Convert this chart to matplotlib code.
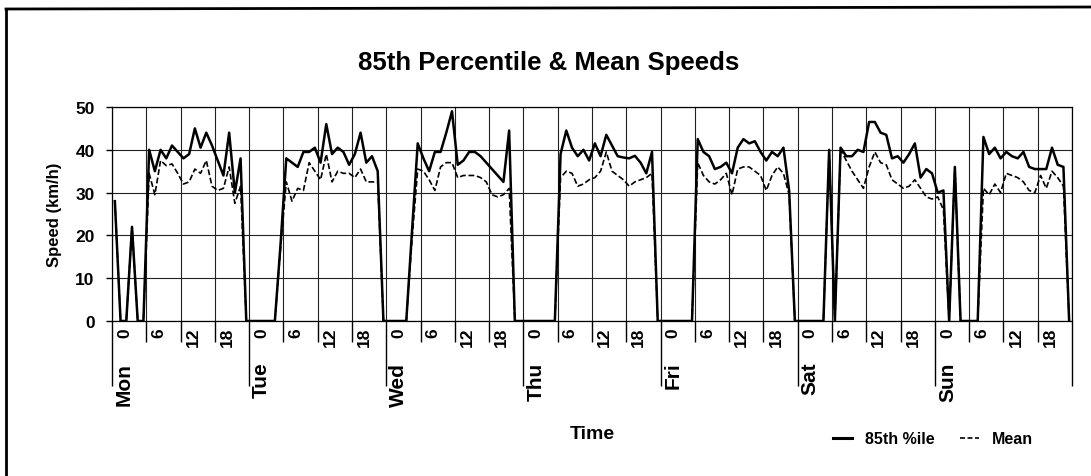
import numpy as np
import matplotlib.pyplot as plt
from matplotlib.lines import Line2D

days = ["Mon", "Tue", "Wed", "Thu", "Fri", "Sat", "Sun"]
hour_labels = ["0", "6", "12", "18"]

# hourly speeds (km/h), hour 0..23 for each day
p85_mon = [28, 0, 0, 22, 0, 0, 40, 35, 40, 38, 41, 39.5, 38, 39, 45, 40.5, 44, 41, 37.5, 34, 44, 30, 38, 0]
p85_tue = [0, 0, 0, 0, 0, 18, 38, 37, 36, 39.5, 39.5, 40.5, 37, 46, 39, 40.5, 39.5, 36.5, 39, 44, 37, 38.5, 35, 0]
p85_wed = [0, 0, 0, 0, 21, 41.5, 38, 35, 39.5, 39.5, 44, 49, 36.5, 37.5, 39.5, 39.5, 38.5, 37, 35.5, 34, 32.5, 44.5, 0, 0]
p85_thu = [0, 0, 0, 0, 0, 0, 39, 44.5, 40.5, 38.5, 40, 37.5, 41.5, 38.5, 43.5, 41, 38.5, 38.2, 38, 38.6, 37, 34.5, 39.5, 0]
p85_fri = [0, 0, 0, 0, 0, 0, 42.5, 39.5, 38.5, 35.5, 36, 37, 34.5, 40.5, 42.5, 41.5, 42, 39.5, 37.5, 39.5, 38.5, 40.5, 30.5, 0]
p85_sat = [0, 0, 0, 0, 0, 40, 0, 40.5, 38.5, 38.5, 40, 39.5, 46.5, 46.5, 44, 43.5, 38, 38.5, 37, 39, 41.5, 33.5, 35.5, 34.5]
p85_sun = [30, 30.5, 0, 36, 0, 0, 0, 0, 43, 39, 40.5, 38, 39.5, 38.5, 38, 39.5, 36, 35.5, 35.5, 35.5, 40.5, 36.5, 36, 0]

mean_mon = [28, 0, 0, 22, 0, 0, 34.5, 29.5, 37.5, 36.3, 36.7, 34.5, 32, 32.5, 35.5, 34.5, 37.5, 31.5, 30.5, 31, 36, 27.5, 31.5, 0]
mean_tue = [0, 0, 0, 0, 0, 17, 32.5, 28, 31, 30.5, 37, 35, 33, 39, 32.5, 35, 34.5, 34.5, 33.5, 35.5, 32.5, 32.5, 32.5, 0]
mean_wed = [0, 0, 0, 0, 19, 35.5, 35, 33, 30.5, 36, 37, 37, 33.5, 34, 34, 34, 33.5, 32.5, 29.5, 29, 29.5, 31, 0, 0]
mean_thu = [0, 0, 0, 0, 0, 0, 33.5, 35, 34.5, 31.5, 32, 33, 33.5, 35, 39.5, 35, 34, 33, 31.5, 32.5, 33, 33.5, 34.5, 0]
mean_fri = [0, 0, 0, 0, 0, 0, 37, 34, 32.5, 32, 33, 34.5, 29.5, 35.5, 36, 36, 35, 34, 30.5, 34, 36, 34.5, 29.5, 0]
mean_sat = [0, 0, 0, 0, 0, 40, 0, 40, 37.5, 35, 33, 31, 36, 39.5, 37, 36.5, 33, 32, 31, 31.5, 33, 31, 29, 28.5]
mean_sun = [29, 26, 0, 36, 0, 0, 0, 0, 31, 29.5, 32, 30, 34.5, 34, 33.5, 32.5, 30.5, 30, 34, 31, 35, 33.5, 31.5, 0]

p85 = np.concatenate([p85_mon, p85_tue, p85_wed, p85_thu, p85_fri, p85_sat, p85_sun])
mean = np.concatenate([mean_mon, mean_tue, mean_wed, mean_thu, mean_fri, mean_sat, mean_sun])
x = np.arange(len(p85)) + 0.5

plt.rcParams['font.family'] = ['Liberation Sans', 'DejaVu Sans']
plt.rcParams['font.weight'] = 'bold'

W, H = 1091, 477
fig = plt.figure(figsize=(W / 100, H / 100), dpi=100)
ax = fig.add_axes([112 / W, (H - 322) / H, 960 / W, 214 / H])

ax.plot(x, p85, color='black', lw=1.8, zorder=3)
ax.plot(x, mean, color='black', lw=1.2, ls=(0, (3.5, 1.6)), zorder=3)

ax.set_xlim(0, 168)
ax.set_ylim(0, 50)
ax.set_yticks(range(0, 51, 10))
ax.set_xticks(np.arange(0, 169, 24))
ax.set_xticks([d * 24 + h for d in range(7) for h in (6, 12, 18)], minor=True)
ax.tick_params(axis='x', which='major', length=47, width=1, color='black', labelbottom=False)
ax.tick_params(axis='x', which='minor', length=15, width=1, color='black', labelbottom=False)
ax.tick_params(axis='y', length=4.5, width=1, labelsize=12.5, pad=8)
ax.grid(axis='x', which='both', color='#222222', lw=0.8)
ax.grid(axis='y', color='#222222', lw=0.8)
for s in ax.spines.values():
    s.set_color('black')
    s.set_linewidth(0.9)

tr = ax.get_xaxis_transform()
for d, day in enumerate(days):
    for k, lab in enumerate(hour_labels):
        ax.text(d * 24 + k * 6 + 2.2, -0.028, lab, transform=tr, rotation=90,
                ha='center', va='top', fontsize=12.5)
    ax.text(d * 24 + 2.2, -0.19, day, transform=tr, rotation=90,
            ha='center', va='top', fontsize=15)

fig.text(55 / W, 1 - 215 / H, 'Speed (km/h)', rotation=90, ha='center', va='center', fontsize=12)
fig.text(549 / W, 1 - 63 / H, '85th Percentile & Mean Speeds', ha='center', va='center', fontsize=18.5)
fig.text(592 / W, 1 - 435 / H, 'Time', ha='center', va='center', fontsize=14)

handles = [Line2D([], [], color='black', lw=2.2),
           Line2D([], [], color='black', lw=1.2, ls=(0, (3, 1.5)))]
fig.legend(handles, ['85th %ile', 'Mean'], loc='center', bbox_to_anchor=(933 / W, 1 - 440 / H),
           ncol=2, frameon=False, fontsize=11.5, handlelength=1.2, handletextpad=0.8, columnspacing=1.6)

fig.add_artist(Line2D([6 / W, 6 / W], [0, 1 - 10 / H], transform=fig.transFigure, color='black', lw=2))
fig.add_artist(Line2D([6 / W, 1], [1 - 10 / H, 1 - 8 / H], transform=fig.transFigure, color='black', lw=2))

fig.savefig('out.png', dpi=100)
